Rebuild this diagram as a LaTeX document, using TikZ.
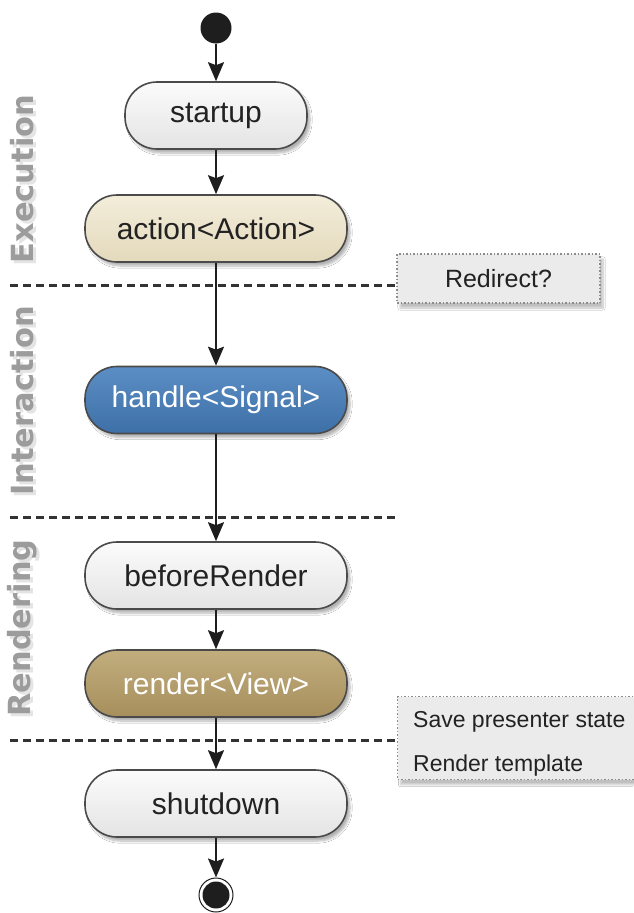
\documentclass[tikz,border=0pt]{standalone}
\usepackage{fontspec}
\setmainfont{Liberation Sans}
\newfontfamily\phasefont{DejaVu Sans}
\usetikzlibrary{arrows.meta,shadows.blur}
\definecolor{nodeborder}{HTML}{4A4A4A}
\definecolor{arrowcol}{HTML}{1E1E1E}
\definecolor{sepcol}{HTML}{333333}
\definecolor{phasecol}{HTML}{9C9C9C}
\definecolor{phaseshadow}{HTML}{E4E4E4}
\definecolor{notefill}{HTML}{EBEBEB}
\definecolor{notebd}{HTML}{8C8C8C}
\definecolor{textdark}{HTML}{222222}
\definecolor{plaintop}{HTML}{FBFBFB}
\definecolor{plainbot}{HTML}{E4E4E4}
\definecolor{acttop}{HTML}{F3EDDA}
\definecolor{actbot}{HTML}{E3D9BC}
\definecolor{handtop}{HTML}{5B8EC4}
\definecolor{handbot}{HTML}{3E70A8}
\definecolor{rendtop}{HTML}{C2AD7E}
\definecolor{rendbot}{HTML}{A68F5C}
\begin{document}
\begin{tikzpicture}[x=1pt,y=-1pt,
  state/.style={draw=nodeborder, line width=1.6pt, rounded corners=32pt,
    minimum width=262pt, minimum height=67pt, inner sep=0pt,
    font=\fontsize{30}{34}\selectfont, text=textdark,
    blur shadow={shadow xshift=3pt, shadow yshift=-4pt, shadow opacity=30, shadow blur steps=8}},
  flow/.style={-{Stealth[length=19pt,width=16pt,inset=3pt]}, line width=2pt, draw=arrowcol},
  sep/.style={draw=sepcol, line width=3pt, dash pattern=on 8pt off 5pt},
  phase/.style={rotate=90, font=\fontsize{30.5}{36}\phasefont\bfseries, text=phasecol, inner sep=0pt},
  phaseshade/.style={phase, text=phaseshadow},
  note/.style={draw=notebd, line width=1.2pt, dash pattern=on 1.5pt off 2pt, fill=notefill,
    blur shadow={shadow xshift=3pt, shadow yshift=-5pt, shadow opacity=25, shadow blur steps=8}},
  notetext/.style={font=\fontsize{23}{28}\selectfont, text=textdark, inner sep=0pt}
]
\useasboundingbox[fill=white] (0,0) rectangle (633,913);

% phase labels
\node[phaseshade] (pexecs) at (25,182) {Execution};
\node[phaseshade] (pinters) at (25,404) {Interaction};
\node[phaseshade] (prends) at (25,631) {Rendering};
\node[phase] (pexec) at (22,179) {Execution};
\node[phase] (pinter) at (22,401) {Interaction};
\node[phase] (prend) at (22,628) {Rendering};

% notes
\node[note, minimum width=203pt, minimum height=49pt, inner sep=0pt,
  font=\fontsize{25}{30}\selectfont, text=textdark] (redirect) at (498.5,278.5) {Redirect?};
\node[note, anchor=north west, minimum width=260pt, minimum height=83pt] (save) at (397,696) {};
\node[notetext, anchor=base west] (savetxt) at (413,727) {Save presenter state};
\node[notetext, anchor=base west] (rendtxt) at (413,771) {Render template};

% separators
\coordinate (s1) at (10,285);
\coordinate (s2) at (10,517);
\coordinate (s2e) at (398,517);
\coordinate (s3) at (10,740);
\draw[sep] (s1) -- (s1 -| redirect.west);
\draw[sep] (s2) -- (s2e);
\draw[sep] (s3) -- (s3 -| save.west);

% nodes
\node[circle, fill=arrowcol, minimum size=31pt, inner sep=0pt] (start) at (216,28) {};
\node[state, minimum width=182pt, top color=plaintop, bottom color=plainbot] (startup) at (216,115.5) {startup};
\node[state, top color=acttop, bottom color=actbot] (action) at (216,228.5) {action<Action>};
\node[state, top color=handtop, bottom color=handbot, text=white] (handle) at (216,400) {handle<Signal>};
\node[state, top color=plaintop, bottom color=plainbot] (before) at (216,575.5) {beforeRender};
\node[state, top color=rendtop, bottom color=rendbot, text=white] (render) at (216,683.5) {render<View>};
\node[state, top color=plaintop, bottom color=plainbot] (shutdown) at (216,803.5) {shutdown};
\node[circle, draw=arrowcol, line width=1pt, fill=white, minimum size=34pt, inner sep=0pt] (end) at (216,895) {};
\node[circle, fill=arrowcol, minimum size=27pt, inner sep=0pt] (endin) at (end) {};

% connectors
\draw[flow] (start) -- (startup);
\draw[flow] (startup) -- (action);
\draw[flow] (action) -- (handle);
\draw[flow] (handle) -- (before);
\draw[flow] (before) -- (render);
\draw[flow] (render) -- (shutdown);
\draw[flow] (shutdown) -- (end);
\end{tikzpicture}
\end{document}
